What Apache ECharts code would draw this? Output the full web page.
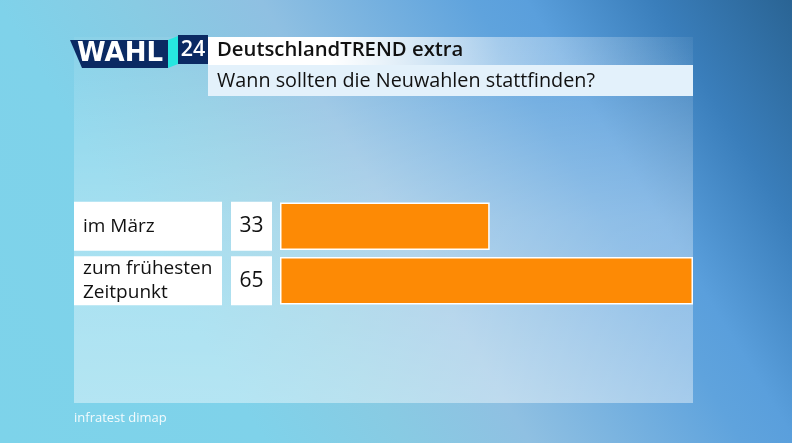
<!DOCTYPE html>
<html>
<head>
<meta charset="utf-8">
<style>
  html,body{margin:0;padding:0;width:792px;height:443px;overflow:hidden}
  #main{width:792px;height:443px}
</style>
<script src="https://cdn.jsdelivr.net/npm/echarts@6/dist/echarts.min.js"></script>
</head>
<body>
<div id="main"></div>
<script>
// 数据
let categories=['im März','zum frühesten\nZeitpunkt']
let values=[33,65]
let logoText='WAHL'
let logoNumber='24'
let titleText='DeutschlandTREND extra'
let subtitleText='Wann sollten die Neuwahlen stattfinden?'
let sourceText='infratest dimap'

let font='"Open Sans"'
let LG=echarts.graphic.LinearGradient
let chart=echarts.init(document.getElementById('main'))

let option={
  animation:false,
  textStyle:{fontFamily:font},
  grid:{left:280,top:199,width:413,height:109,containLabel:false},
  xAxis:{type:'value',min:0,max:65,show:false},
  yAxis:[
    {
      type:'category',data:categories,inverse:true,position:'left',
      axisLine:{show:false},axisTick:{show:false},
      axisLabel:{
        margin:206,color:'#111',fontSize:19,lineHeight:24,align:'left',verticalAlign:'middle',
        width:139,height:49,overflow:'none',backgroundColor:'#fff',padding:[0,0,0,9]
      }
    },
    {
      type:'category',data:values,inverse:true,position:'left',
      axisLine:{show:false},axisTick:{show:false},
      axisLabel:{
        margin:28.5,color:'#111',fontSize:21,align:'center',verticalAlign:'middle',
        width:41,height:49,lineHeight:49,backgroundColor:'#fff'
      }
    }
  ],
  series:[{
    type:'bar',data:values,barWidth:47.5,
    itemStyle:{color:'#fd8a05',borderColor:'#fff',borderWidth:1.5}
  }],
  graphic:[
    // 背景
    {type:'rect',z:-10,shape:{x:0,y:0,width:792,height:443},style:{fill:new LG(0,443,774,-29,[
      {offset:0,color:'#7dd3ea'},{offset:0.25,color:'#7fd2ea'},{offset:0.38,color:'#88cbe3'},
      {offset:0.5,color:'#8fc0e2'},{offset:0.7,color:'#5fa3dd'},{offset:0.75,color:'#5a9fdc'},
      {offset:0.87,color:'#3a7ebb'},{offset:1,color:'#2a6494'}
    ],true)}},
    {type:'rect',z:-9,shape:{x:74,y:37,width:619,height:366},style:{fill:new LG(0,0,0,1,[
      {offset:0,color:'rgba(255,255,255,0.06)'},{offset:0.5,color:'rgba(255,255,255,0.3)'},{offset:1,color:'rgba(255,255,255,0.42)'}
    ])}},
    // 标题
    {type:'rect',z:1,shape:{x:208,y:37,width:485,height:28},style:{fill:new LG(0,0,1,0,[
      {offset:0,color:'#ffffff'},{offset:0.25,color:'#ffffff'},{offset:0.6,color:'rgba(255,255,255,0.4)'},{offset:1,color:'rgba(255,255,255,0)'}
    ])}},
    {type:'rect',z:1,shape:{x:208,y:65,width:485,height:31},style:{fill:'#e3f1fb'}},
    {type:'text',z:2,x:217,y:50,style:{text:titleText,font:'600 20.3px '+font,fill:'#111',verticalAlign:'middle'}},
    {type:'text',z:2,x:217,y:81,style:{text:subtitleText,font:'19.8px '+font,fill:'#111',verticalAlign:'middle'}},
    // 徽标
    {type:'polygon',z:2,shape:{points:[[70,40],[168,40],[168,68],[82,68]]},style:{fill:'#0b2a63'}},
    {type:'polygon',z:2,shape:{points:[[168,40],[178,36],[178,64],[168,68]]},style:{fill:'#27e6e0'}},
    {type:'rect',z:2,shape:{x:178,y:35,width:30,height:29},style:{fill:'#0b2a63'}},
    {type:'text',z:3,x:120,y:54,style:{text:logoText,font:'bold 26px "DejaVu Sans"',fill:'#fff',align:'center',verticalAlign:'middle'}},
    {type:'text',z:3,x:193,y:50,style:{text:logoNumber,font:'600 21.5px '+font,fill:'#fff',align:'center',verticalAlign:'middle'}},
    // 来源
    {type:'text',z:2,x:74,y:418,style:{text:sourceText,font:'13px '+font,fill:'#fff',verticalAlign:'middle',opacity:0.9}}
  ]
}
chart.setOption(option)
</script>
</body>
</html>
